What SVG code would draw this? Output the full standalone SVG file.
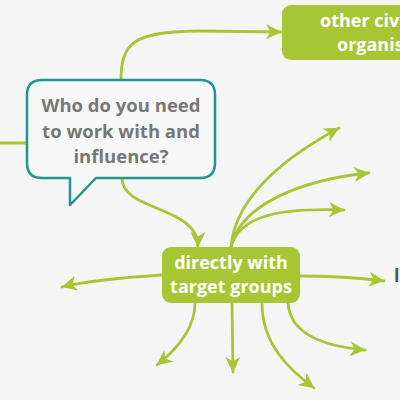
<svg xmlns="http://www.w3.org/2000/svg" width="400" height="400" viewBox="0 0 400 400">
<style>
.c{fill:none;stroke:#a8c634;stroke-width:2.8;stroke-linecap:round}
.box{fill:#a8c634}
.wt{font-family:"Open Sans","Liberation Sans",sans-serif;font-weight:bold;font-size:18px;fill:#ffffff}
.gt{font-family:"Open Sans","Liberation Sans",sans-serif;font-weight:bold;font-size:18.5px;fill:#777777;text-anchor:middle}
</style>
<defs>
<marker id="ah" viewBox="0 0 16 16" refX="15" refY="8" markerWidth="16" markerHeight="16" markerUnits="userSpaceOnUse" orient="auto">
<path d="M0,0.5 L15.5,8 L0,15.5 L4.5,8 Z" fill="#a8c634"/>
</marker>
</defs>
<rect width="400" height="400" fill="#f5f5f5"/>
<g id="connectors">
<path class="c" d="M0,143 L27,143"/>
<path class="c" marker-end="url(#ah)" d="M121,80 C121,42 135,31 200,31 L281,32"/>
<path class="c" marker-end="url(#ah)" d="M122,178 C122,212 198,205 198,247"/>
<path class="c" marker-end="url(#ah)" d="M162,275 C130,277 90,280 62,287"/>
<path class="c" marker-end="url(#ah)" d="M195,303 C195,330 176,350 157,365"/>
<path class="c" marker-end="url(#ah)" d="M232,303 L233,372"/>
<path class="c" marker-end="url(#ah)" d="M262,303 C262,345 290,370 314,388"/>
<path class="c" marker-end="url(#ah)" d="M288,303 C290,332 320,346 365,350"/>
<path class="c" marker-end="url(#ah)" d="M300,276 C330,276 360,278 384,281"/>
<path class="c" marker-end="url(#ah)" d="M231,247 C235,200 280,160 339,128"/>
<path class="c" marker-end="url(#ah)" d="M231,247 C240,205 300,180 369,173"/>
<path class="c" marker-end="url(#ah)" d="M231,247 C240,215 280,208 344,210"/>
</g>
<g id="question">
<path d="M42,80 H200 Q215,80 215,95 V163 Q215,178 200,178 H96 L70,205 V178 H42 Q27,178 27,163 V95 Q27,80 42,80 Z" fill="#f7f7f7" stroke="#20968c" stroke-width="2.5" stroke-linejoin="round"/>
<text class="gt" x="121" y="112">Who do you need</text>
<text class="gt" x="121" y="138">to work with and</text>
<text class="gt" x="121" y="163">influence?</text>
</g>
<g id="other-civil">
<rect class="box" x="282" y="5" width="140" height="55" rx="9"/>
<text class="wt" x="320" y="27">other civi</text>
<text class="wt" x="337" y="51">organis</text>
</g>
<g id="target-groups">
<rect class="box" x="162" y="247" width="138" height="56" rx="9"/>
<text class="wt" x="231" y="269" text-anchor="middle">directly with</text>
<text class="wt" x="231" y="293" text-anchor="middle">target groups</text>
</g>
<g id="right-node">
<text x="394" y="282" font-family="Open Sans, Liberation Sans, sans-serif" font-weight="bold" font-size="18" fill="#555555">l</text>
</g>
</svg>
